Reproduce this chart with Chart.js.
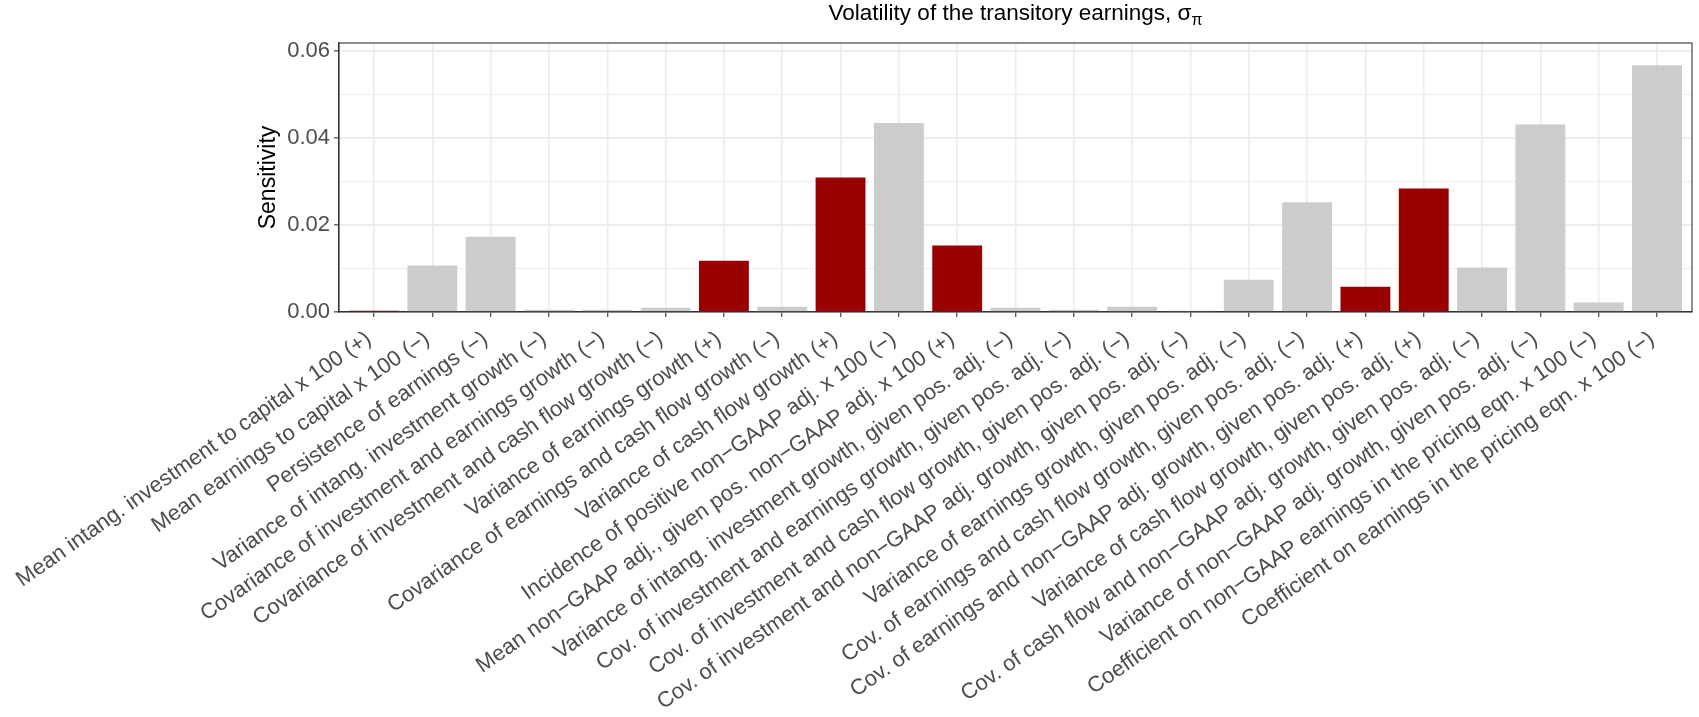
<!DOCTYPE html>
<html>
<head>
<meta charset="utf-8">
<script src="https://cdn.jsdelivr.net/npm/chart.js@4/dist/chart.umd.min.js"></script>
<style>
  html, body { margin: 0; padding: 0; background: #fff; }
  #wrap { width: 1699px; height: 717px; position: relative; }
</style>
</head>
<body>
<div id="wrap"><canvas id="chart"></canvas></div>
<script>
// Chart data
const categories = [
  'Mean intang. investment to capital x 100 (+)',
  'Mean earnings to capital x 100 (\u2212)',
  'Persistence of earnings (\u2212)',
  'Variance of intang. investment growth (\u2212)',
  'Covariance of investment and earnings growth (\u2212)',
  'Covariance of investment and cash flow growth (\u2212)',
  'Variance of earnings growth (+)',
  'Covariance of earnings and cash flow growth (\u2212)',
  'Variance of cash flow growth (+)',
  'Incidence of positive non\u2212GAAP adj. x 100 (\u2212)',
  'Mean non\u2212GAAP adj., given pos. non\u2212GAAP adj. x 100 (+)',
  'Variance of intang. investment growth, given pos. adj. (\u2212)',
  'Cov. of investment and earnings growth, given pos. adj. (\u2212)',
  'Cov. of investment and cash flow growth, given pos. adj. (\u2212)',
  'Cov. of investment and non\u2212GAAP adj. growth, given pos. adj. (\u2212)',
  'Variance of earnings growth, given pos. adj. (\u2212)',
  'Cov. of earnings and cash flow growth, given pos. adj. (\u2212)',
  'Cov. of earnings and non\u2212GAAP adj. growth, given pos. adj. (+)',
  'Variance of cash flow growth, given pos. adj. (+)',
  'Cov. of cash flow and non\u2212GAAP adj. growth, given pos. adj. (\u2212)',
  'Variance of non\u2212GAAP adj. growth, given pos. adj. (\u2212)',
  'Coefficient on non\u2212GAAP earnings in the pricing eqn. x 100 (\u2212)',
  'Coefficient on earnings in the pricing eqn. x 100 (\u2212)'
];
const sensitivity = [
  0.0003, 0.0107, 0.0173, 0.0005, 0.0005, 0.0010, 0.0118, 0.0012,
  0.0309, 0.0434, 0.0153, 0.0010, 0.0005, 0.0012, 0.0003, 0.0074,
  0.0252, 0.0058, 0.0284, 0.0102, 0.0431, 0.0022, 0.0567
];
const yTicks = [0, 0.02, 0.04, 0.06];
const titleText = 'Volatility of the transitory earnings, \u03c3';
const titleSub = '\u03c0';

const FONT = '"Liberation Sans", Arial, Helvetica, sans-serif';
const RED = '#990000';
const GREY = '#cccccc';

const isMajor = v => yTicks.some(t => Math.abs(t - v) < 1e-9);

// title with a subscript, centred over the panel
const titlePlugin = {
  id: 'subTitle',
  afterDraw(chart) {
    const ctx = chart.ctx;
    const area = chart.chartArea;
    ctx.save();
    ctx.fillStyle = '#000';
    ctx.textBaseline = 'alphabetic';
    ctx.font = '22.5px ' + FONT;
    const w1 = ctx.measureText(titleText).width;
    ctx.font = '16px ' + FONT;
    const w2 = ctx.measureText(titleSub).width;
    const x0 = (area.left + area.right) / 2 - (w1 + w2) / 2;
    ctx.font = '22.5px ' + FONT;
    ctx.textAlign = 'left';
    ctx.fillText(titleText, x0, 20);
    ctx.font = '16px ' + FONT;
    ctx.fillText(titleSub, x0 + w1, 25);
    ctx.restore();
  }
};

// panel border on top of the bars
const borderPlugin = {
  id: 'panelBorder',
  afterDatasetsDraw(chart) {
    const ctx = chart.ctx;
    const a = chart.chartArea;
    ctx.save();
    ctx.strokeStyle = '#333333';
    ctx.lineWidth = 1.1;
    ctx.strokeRect(a.left, a.top, a.right - a.left, a.bottom - a.top);
    ctx.restore();
  }
};

const ctx = document.getElementById('chart').getContext('2d');
new Chart(ctx, {
  type: 'bar',
  data: {
    datasets: [{
      data: sensitivity.map((v, i) => ({ x: i, y: v })),
      backgroundColor: categories.map(c => c.endsWith('(+)') ? RED : GREY),
      borderWidth: 0,
      barPercentage: 0.855,
      categoryPercentage: 1.0
    }]
  },
  options: {
    responsive: true,
    maintainAspectRatio: false,
    animation: false,
    layout: { padding: { top: 43, right: 7, left: 253, bottom: 0 } },
    plugins: {
      legend: { display: false },
      tooltip: { enabled: false },
      title: { display: false }
    },
    scales: {
      x: {
        type: 'linear',
        offset: false,
        min: -0.6,
        max: categories.length - 1 + 0.6,
        afterFit: scale => { scale.height = 405; },
        grid: {
          offset: false,
          color: '#ebebeb',
          lineWidth: 1.5,
          tickColor: '#333333',
          tickWidth: 1.1,
          tickLength: 5,
          drawTicks: true
        },
        border: { display: true, color: '#333333', width: 1.1 },
        ticks: {
          stepSize: 1,
          maxTicksLimit: 40,
          includeBounds: false,
          autoSkip: false,
          minRotation: 35,
          maxRotation: 35,
          padding: 9,
          labelOffset: -5,
          color: '#4d4d4d',
          font: { family: FONT, size: 22 },
          callback: v => Number.isInteger(v) ? categories[v] : ''
        }
      },
      y: {
        min: 0,
        max: 0.0618,
        afterFit: scale => { scale.width = 86; },
        title: {
          display: true,
          text: 'Sensitivity',
          color: '#000',
          font: { family: FONT, size: 23 },
          padding: { top: 2, bottom: 0 }
        },
        grid: {
          color: '#ebebeb',
          lineWidth: c => (c.tick && isMajor(c.tick.value)) ? 1.7 : 0.9,
          tickColor: c => (c.tick && isMajor(c.tick.value)) ? '#333333' : 'rgba(0,0,0,0)',
          tickWidth: 1.1,
          tickLength: 5,
          drawTicks: true
        },
        border: { display: true, color: '#333333', width: 1.1 },
        ticks: {
          stepSize: 0.01,
          maxTicksLimit: 20,
          includeBounds: false,
          padding: 4,
          color: '#4d4d4d',
          font: { family: FONT, size: 22 },
          callback: v => isMajor(v) ? v.toFixed(2) : ''
        }
      }
    }
  },
  plugins: [titlePlugin, borderPlugin]
});
</script>
</body>
</html>
